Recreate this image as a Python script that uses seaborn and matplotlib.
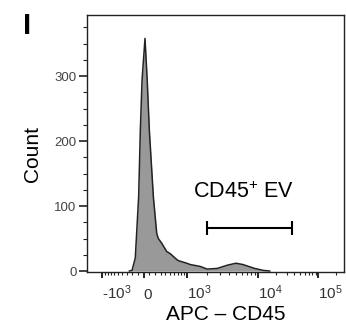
import numpy as np
import matplotlib
matplotlib.use('Agg')
import matplotlib.pyplot as plt
import seaborn as sns
from matplotlib.ticker import FixedLocator

# histogram (APC intensity, event count)
apc_values = [-260, -205, -145, -85, -55, -25, 25, 62, 98, 168, 228, 258,
              322, 428, 503, 672, 722, 1000, 1130, 1590, 1980, 2750, 3800,
              5000, 6200, 9000, 12200, 15800]
counts = [0, 1, 20, 114, 217, 294, 358, 294, 217, 114, 58, 50,
          43, 30, 27, 18, 16, 12, 10, 7, 3, 4, 9,
          12, 10, 4, 1, 0]

# gate
gate_lo, gate_hi, gate_y = 2000, 36000, 66
gate_label = r'CD45$^{\mathregular{+}}$ EV'

x_ticks = [-1e3, 0, 1e3, 1e4, 1e5]
x_ticklabels = [r'-$\mathregular{10^3}$', '0', r'$\mathregular{10^3}$',
                r'$\mathregular{10^4}$', r'$\mathregular{10^5}$']
y_ticks = [0, 100, 200, 300]

sns.set_style('ticks')
plt.rcParams['font.family'] = ['Liberation Sans', 'DejaVu Sans']
plt.rcParams['mathtext.fontset'] = 'custom'
plt.rcParams['mathtext.rm'] = 'Liberation Sans'
plt.rcParams['mathtext.it'] = 'Liberation Sans:italic'
plt.rcParams['mathtext.bf'] = 'Liberation Sans:bold'
plt.rcParams['text.color'] = 'black'
plt.rcParams['axes.labelcolor'] = 'black'

# logicle-like display scale (asinh, pinned at the decade ticks)
W = 500
anchor_vals = np.array([-1e4, -1e3, 0, 1e3, 1e4, 1e5, 1e6])
anchor_pos = np.array([37.6, 102, 143.5, 186.7, 258, 318.3, 378.6])


def fwd(x):
    return np.interp(np.arcsinh(np.asarray(x, dtype=float) / W),
                     np.arcsinh(anchor_vals / W), anchor_pos)


def inv(p):
    return W * np.sinh(np.interp(np.asarray(p, dtype=float), anchor_pos,
                                 np.arcsinh(anchor_vals / W)))


fig = plt.figure(figsize=(3.46, 3.27), dpi=100)
ax = fig.add_axes([87 / 346, 55 / 327, 257 / 346, 257 / 327])
ax.set_xscale('function', functions=(fwd, inv))

ax.fill_between(apc_values, counts, color='#999999', linewidth=0)
sns.lineplot(x=apc_values, y=counts, sort=False, color='#222222',
             linewidth=1.1, ax=ax)

# gate bar + label
ax.plot([gate_lo, gate_hi], [gate_y, gate_y], color='black', lw=1.5,
        marker='|', markersize=10, markeredgewidth=1.5)
ax.text(6400, 112, gate_label, ha='center', va='baseline', fontsize=15.5)

ax.set_xlim(inv(87), inv(344))
ax.set_ylim(-1.5, 394)

ax.set_xticks(x_ticks)
ax.set_xticklabels(x_ticklabels)
minor_x = ([-v for v in range(100, 1000, 100)] + list(range(100, 1000, 100))
           + list(range(2000, 10000, 1000)) + list(range(20000, 100000, 10000))
           + [200000])
ax.xaxis.set_minor_locator(FixedLocator(minor_x))
ax.set_yticks(y_ticks)
ax.yaxis.set_minor_locator(FixedLocator([v for v in range(25, 400, 25) if v % 100]))

ax.tick_params(axis='x', which='major', length=4.5, width=1.4, pad=15,
               labelsize=11, colors='#222222', labelcolor='#333333')
ax.tick_params(axis='x', which='minor', length=2.2, width=0.8, colors='#222222')
ax.tick_params(axis='y', which='major', length=5.5, width=1.2, pad=2,
               labelsize=9.5, colors='#222222', labelcolor='#444444')
ax.tick_params(axis='y', which='minor', length=3, width=0.8, colors='#222222')
plt.setp(ax.get_xticklabels(), va='baseline', ha='left')

for s in ax.spines.values():
    s.set_color('#222222')
    s.set_linewidth(1)

ax.set_xlabel('APC – CD45', fontsize=15)
ax.set_ylabel('Count', fontsize=15)
ax.xaxis.set_label_coords((226 - 87) / 257, (272 - 305) / 257)
ax.yaxis.set_label_coords((42 - 87) / 257, (272 - 154.5) / 257)

fig.text(23 / 346, 1 - 12 / 327, 'I', fontweight='bold', fontsize=21, va='top')

fig.savefig('out.png', dpi=100)
